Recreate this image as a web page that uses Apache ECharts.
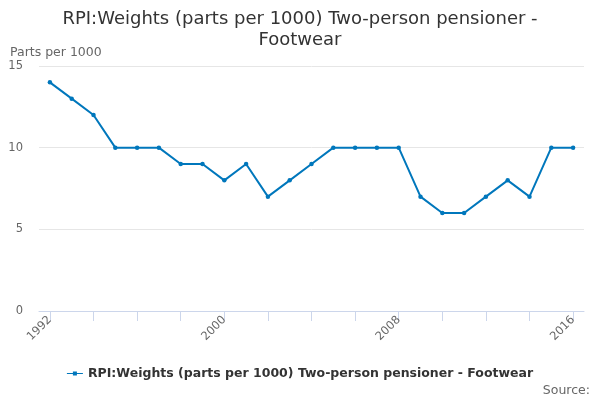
<!DOCTYPE html>
<html><head><meta charset="utf-8">
<script src="https://cdn.jsdelivr.net/npm/echarts@6/dist/echarts.min.js"></script>
<style>html,body{margin:0;padding:0;background:#fff}#c{width:600px;height:400px}</style>
</head><body><div id="c"></div>
<script>
const years = [1992,1993,1994,1995,1996,1997,1998,1999,2000,2001,2002,2003,2004,2005,2006,2007,2008,2009,2010,2011,2012,2013,2014,2015,2016];
const values = [14,13,12,10,10,10,9,9,8,9,7,8,9,10,10,10,10,7,6,6,7,8,7,10,10];
const tickYears = [1992,1994,1996,1998,2000,2002,2004,2006,2008,2010,2012,2014,2016];
const labelYears = [1992,2000,2008,2016];
const seriesName = 'RPI:Weights (parts per 1000) Two-person pensioner - Footwear';
const titleText = 'RPI:Weights (parts per 1000) Two-person pensioner -\nFootwear';
const yTitle = 'Parts per 1000';
const font = 'DejaVu Sans';

const chart = echarts.init(document.getElementById('c'));
chart.setOption({
  animation: false,
  textStyle: {fontFamily: font},
  title: {
    text: titleText, left: 'center', top: 4,
    textStyle: {fontFamily: font, fontSize: 18, fontWeight: 'normal', color: '#333', lineHeight: 21}
  },
  legend: {
    bottom: 15, left: 'center', itemWidth: 16, itemHeight: 8, itemGap: 10,
    textStyle: {fontFamily: font, fontSize: 12.5, fontWeight: 'bold', color: '#333'},
    data: [{name: seriesName, icon: 'path://M0,3.5L16,3.5L16,4.5L0,4.5Z M6,2L10,2L10,6L6,6Z'}]
  },
  graphic: [
    {type: 'text', left: 10, top: 46, style: {text: yTitle, fontFamily: font, fontSize: 12.5, fill: '#666'}},
    {type: 'text', right: 10, top: 384, style: {text: 'Source:', fontFamily: font, fontSize: 12.5, fill: '#666'}}
  ],
  grid: {left: 39, right: 16, top: 66, bottom: 89, containLabel: false},
  xAxis: {
    type: 'value', min: 1991.5, max: 2016.5,
    splitLine: {show: false},
    axisLine: {show: true, lineStyle: {color: '#ccd6eb'}},
    axisTick: {show: true, length: 10, lineStyle: {color: '#ccd6eb'}, customValues: tickYears},
    axisLabel: {customValues: labelYears, rotate: 45, color: '#666', fontSize: 11.5, fontFamily: font, margin: 7, formatter: v => String(v)}
  },
  yAxis: {
    type: 'value', min: 0, max: 15, interval: 5,
    splitLine: {lineStyle: {color: '#e6e6e6'}},
    axisLine: {show: false}, axisTick: {show: false},
    axisLabel: {color: '#666', fontSize: 11.5, fontFamily: font, margin: 16}
  },
  series: [{
    name: seriesName, type: 'line',
    data: years.map((y, i) => [y, values[i]]),
    color: '#0077bc',
    lineStyle: {width: 2},
    symbol: 'circle', symbolSize: 4.5,
    itemStyle: {color: '#0077bc'}
  }]
});
</script></body></html>
